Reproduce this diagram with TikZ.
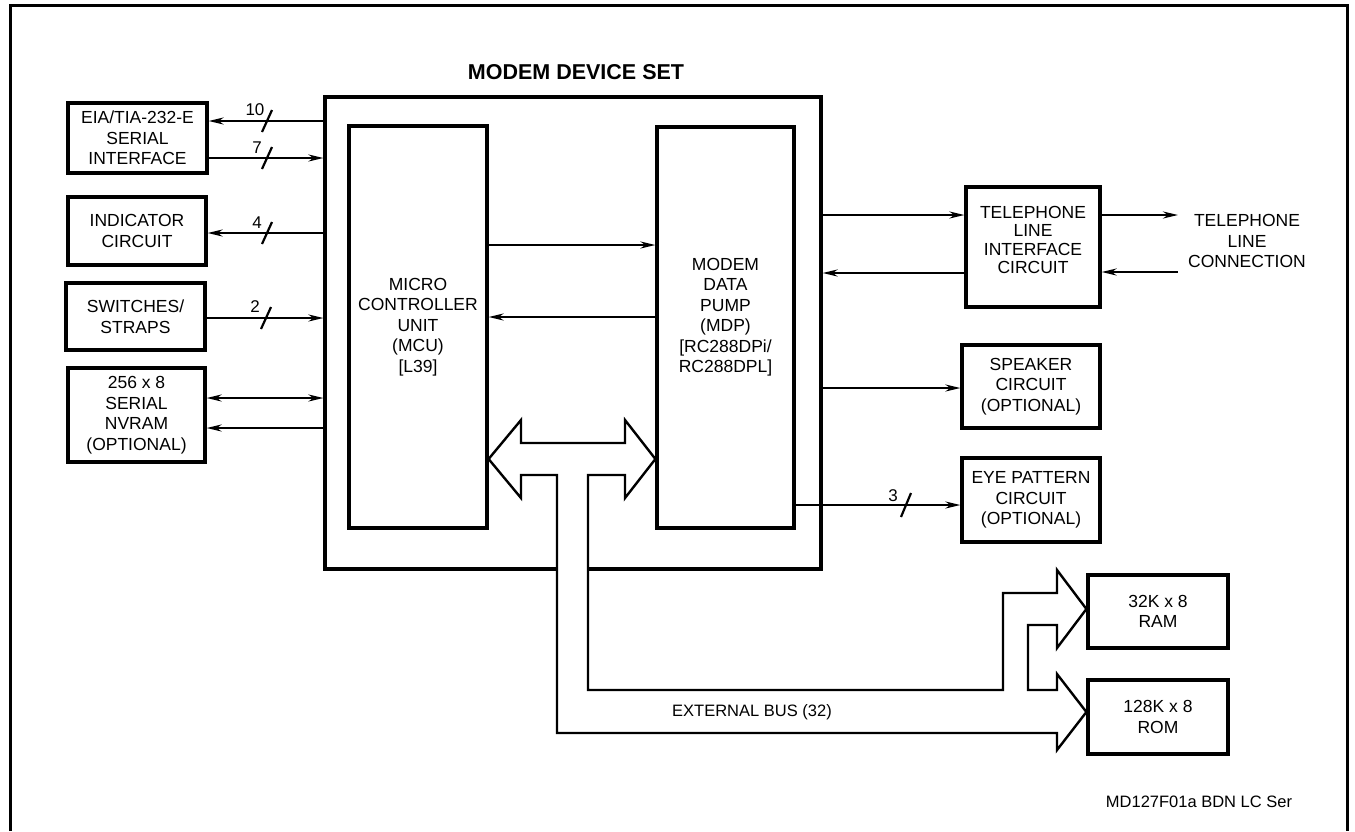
\documentclass[tikz,border=0pt]{standalone}
\usepackage{fontspec}
\setmainfont{Liberation Sans}
\usetikzlibrary{arrows.meta}
\begin{document}
\begin{tikzpicture}[x=1pt,y=-1pt,
  box/.style={draw, line width=3.2pt, align=center, inner sep=0pt, font=\fontsize{17.5}{20.5}\selectfont},
  txt/.style={align=center, inner sep=0pt, font=\fontsize{17.5}{20.5}\selectfont},
  arr/.style={line width=2.2pt, -{Stealth[length=15pt,width=7pt]}},
  darr/.style={line width=2.2pt, {Stealth[length=15pt,width=7pt]}-{Stealth[length=15pt,width=7pt]}},
  slash/.style={line width=2.2pt},
  lab/.style={inner sep=0pt, font=\fontsize{17}{17}\selectfont},
  bus/.style={draw, line width=2.4pt, fill=white, line join=miter}
]
\useasboundingbox (0,0) rectangle (1355,831);
% outer frame
\draw[line width=3pt] (10,831) -- (10,5) -- (1347,5) -- (1347,831);

% left boxes
\node[box, minimum width=139pt, minimum height=70pt] (eia) at (137.5,138) {EIA/TIA-232-E\\SERIAL\\INTERFACE};
\node[box, minimum width=138pt, minimum height=68pt] (ind) at (137,231) {INDICATOR\\CIRCUIT};
\node[box, minimum width=139pt, minimum height=67pt] (sw) at (135.5,316.5) {SWITCHES/\\STRAPS};
\node[box, minimum width=137pt, minimum height=94pt] (nv) at (136.5,415) {256 x 8\\SERIAL\\NVRAM\\(OPTIONAL)};

% modem device set
\node[box, minimum width=496pt, minimum height=472pt] (dev) at (573,333) {};
\node[inner sep=0pt, font=\fontsize{21.5}{22}\selectfont\bfseries] (title) at (576,72) {MODEM DEVICE SET};
\node[box, minimum width=138pt, minimum height=402pt] (mcu) at (418,327) {MICRO\\CONTROLLER\\UNIT\\(MCU)\\{[}L39{]}};
\node[box, minimum width=137pt, minimum height=401pt] (mdp) at (725.5,327.5) {};
\node[txt] (mdptxt) at (725.5,317) {MODEM\\DATA\\PUMP\\(MDP)\\{[}RC288DPi/\\RC288DPL{]}};

% right boxes
\node[box, minimum width=134pt, minimum height=120pt] (tli) at (1033,247) {};
\node[txt, font=\fontsize{17.5}{18.5}\selectfont] (tlitxt) at (1033,240) {TELEPHONE\\LINE\\INTERFACE\\CIRCUIT};
\node[txt, inner sep=10pt] (tlc) at (1247,241) {TELEPHONE\\LINE\\CONNECTION};
\node[box, minimum width=138pt, minimum height=83pt] (spk) at (1031,386.5) {SPEAKER\\CIRCUIT\\(OPTIONAL)};
\node[box, minimum width=138pt, minimum height=84pt] (eye) at (1031,500) {EYE PATTERN\\CIRCUIT\\(OPTIONAL)};
\node[box, minimum width=140pt, minimum height=73pt] (ram) at (1158,611.5) {32K x 8\\RAM};
\node[box, minimum width=140pt, minimum height=74pt] (rom) at (1158,717) {128K x 8\\ROM};

% left connectors
\draw[arr] (dev.west |- 0,121) -- (eia.east |- 0,121);
\draw[arr] (eia.east |- 0,158) -- (dev.west |- 0,158);
\draw[arr] (dev.west |- 0,233) -- (ind.east |- 0,233);
\draw[arr] (sw.east |- 0,318) -- (dev.west |- 0,318);
\draw[darr] (nv.east |- 0,398) -- (dev.west |- 0,398);
\draw[arr] (dev.west |- 0,428) -- (nv.east |- 0,428);

% bus width marks
\coordinate (s10) at (267,121);
\draw[slash] (s10) +(-5,11) -- +(5,-11);
\node[lab] (l10) at (255,110) {10};
\coordinate (s7) at (267,158);
\draw[slash] (s7) +(-5,11) -- +(5,-11);
\node[lab] (l7) at (257,148) {7};
\coordinate (s4) at (267,233);
\draw[slash] (s4) +(-5,11) -- +(5,-11);
\node[lab] (l4) at (257,223) {4};
\coordinate (s2) at (266,318);
\draw[slash] (s2) +(-5,11) -- +(5,-11);
\node[lab] (l2) at (255,307) {2};

% MCU <-> MDP
\draw[arr] (mcu.east |- 0,245) -- (mdp.west |- 0,245);
\draw[arr] (mdp.west |- 0,317) -- (mcu.east |- 0,317);

% right connectors
\draw[arr] (dev.east |- 0,215) -- (tli.west |- 0,215);
\draw[arr] (tli.west |- 0,273) -- (dev.east |- 0,273);
\draw[arr] (dev.east |- 0,388) -- (spk.west |- 0,388);
\draw[arr] (mdp.east |- 0,505) -- (eye.west |- 0,505);
\coordinate (s3) at (906,505);
\draw[slash] (s3) +(-5,12) -- +(5,-12);
\node[lab] (l3) at (893,496) {3};
\draw[arr] (tli.east |- 0,215) -- (tlc.west |- 0,215);
\draw[arr] (tlc.west |- 0,272) -- (tli.east |- 0,272);

% external bus
\draw[bus] (mcu.east |- 0,459) -- (521,420) -- (521,443) -- (625,443) -- (625,420)
  -- (mdp.west |- 0,459) -- (625,498) -- (625,475) -- (588,475) -- (588,690)
  -- (1003,690) -- (1003,593) -- (1057,593) -- (1057,570) -- (ram.west |- 0,609)
  -- (1057,648) -- (1057,625) -- (1028,625) -- (1028,690) -- (1057,690)
  -- (1057,674) -- (rom.west |- 0,712) -- (1057,750) -- (1057,733)
  -- (557,733) -- (557,475) -- (521,475) -- (521,498) -- cycle;
\node[lab, font=\fontsize{16.5}{17}\selectfont] (ebus) at (752,712) {EXTERNAL BUS (32)};

\node[lab, font=\fontsize{16.5}{17}\selectfont] (foot) at (1199,802) {MD127F01a BDN LC Ser};
\end{tikzpicture}
\end{document}
